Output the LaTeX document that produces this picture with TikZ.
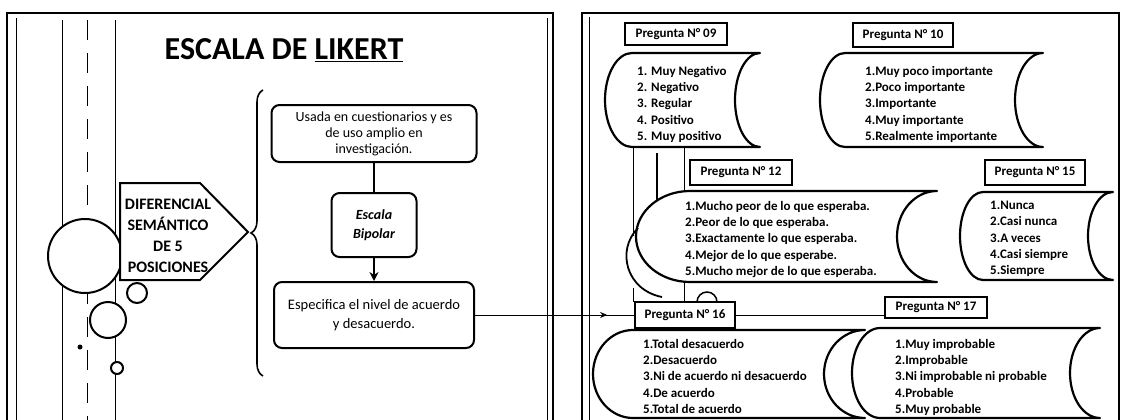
\documentclass[tikz,border=0pt]{standalone}
\usepackage{fontspec}
\setmainfont{Carlito}
\usetikzlibrary{decorations.pathreplacing,decorations.markings,arrows.meta}
\newcommand{\fs}[2]{\fontsize{#1}{#2}\selectfont}
% question shape: x1 (left corner), xl (leftmost of convex arc), x2 (right corner), xc (innermost of concave arc), ytop, ybot
\newcommand{\qshp}[6]{%
  \draw[qshape] (#1,#5) -- (#3,#5)
    arc[start angle=270,end angle=90,x radius={#3-#4},y radius={(#6-#5)/2}]
    -- (#1,#6)
    arc[start angle=90,end angle=270,x radius={#1-#2},y radius={(#6-#5)/2}]
    -- cycle;}
\begin{document}
\begin{tikzpicture}[x=1pt,y=-1pt,
  frameln/.style={line width=1.5pt},
  innerln/.style={line width=0.8pt},
  guide/.style={line width=0.7pt},
  qshape/.style={line width=2.2pt,fill=white,line join=round},
  qlabel/.style={draw,line width=1.6pt,fill=white,inner sep=0pt,font=\fs{13}{15}\bfseries},
  qtext/.style={anchor=north west,align=left,inner sep=0pt,font=\fs{13}{16.3}\bfseries},
  rbox/.style={draw,line width=2pt,rounded corners=8pt,fill=white,align=center,inner sep=0pt},
  bubble/.style={draw,line width=2pt,fill=white},
]
\useasboundingbox (0,0) rectangle (1121,420);
\clip (0,0) rectangle (1121,420);

% ---------- frames ----------
\draw[frameln] (7,13) rectangle (553,430);
\draw[innerln] (16,18) -- (16,430);
\draw[innerln] (547,18) -- (547,430);
\draw[frameln] (582,13) rectangle (1119,430);
\draw[innerln] (589,17) -- (589,430);

% ---------- left panel guide lines ----------
\draw[guide] (62,20) -- (62,420);
\draw[guide,dash pattern=on 20pt off 13pt] (87,20) -- (87,420);
\draw[guide] (115,20) -- (115,420);

% ---------- bubbles ----------
\draw[bubble] (85,256) circle[radius=37];
\draw[bubble] (137,293) circle[radius=10];
\draw[bubble] (108,320) circle[radius=18];
\draw[bubble] (117,368) circle[radius=6];
\fill (80,347) circle[radius=2.5];

% ---------- pentagon ----------
\coordinate (pa) at (120,183);
\coordinate (pb) at (200,183);
\coordinate (pc) at (248,232);
\coordinate (pd) at (200,280);
\coordinate (pe) at (120,280);
\draw[bubble,line join=miter] (pa) -- (pb) -- (pc) -- (pd) -- (pe) -- cycle;
\node[font=\fs{16}{21}\bfseries,align=center,inner sep=0pt] (dif) at (168,236)
  {DIFERENCIAL\\SEMÁNTICO\\DE 5\\POSICIONES};

% ---------- title ----------
\node[font=\fs{32}{36}\bfseries] (title) at (284,50) {ESCALA DE \underline{LIKERT}};

% ---------- brace ----------
\draw[line width=1.6pt,decorate,decoration={brace,amplitude=12pt,aspect=0.5}] (263,376) -- (263,90);

% ---------- boxes ----------
\node[rbox,minimum width=205pt,minimum height=57pt,font=\fs{14}{16}] (use) at (374,133.5)
  {Usada en cuestionarios y es\\de uso amplio en\\investigación.};
\node[rbox,minimum width=85pt,minimum height=64pt,font=\fs{14}{19}\bfseries\itshape] (bip) at (374,225)
  {Escala\\Bipolar};
\node[rbox,minimum width=200pt,minimum height=66pt,font=\fs{14.5}{19}] (esp) at (374,315)
  {Especifica el nivel de acuerdo\\y desacuerdo.};
\draw[line width=1.6pt] (use) -- (bip);
\draw[line width=1.6pt,-{Stealth[length=9pt,width=9pt]}] (bip) -- (esp);

% ---------- right panel guide lines ----------
\draw[guide] (633,148) -- (633,236);
\draw[line width=1.5pt] (657,153) -- (657,200);
\draw[guide] (684,147) -- (684,191);
\draw[guide] (633,288) -- (633,302);
\draw[guide] (684,283) -- (684,302);
\draw[line width=1.5pt] (697,302) arc[start angle=180,end angle=360,radius=10];

% ---------- question shapes ----------
\qshp{632}{605}{760}{735}{53}{147}
\qshp{845}{820}{1043}{1015}{53}{147}
\qshp{690}{636}{937}{897}{191}{282}
\qshp{983}{960}{1113}{1088}{192}{280}
\qshp{633}{593}{865}{824}{330}{418}
\qshp{880}{852}{1100}{1070}{328}{418}
\draw[line width=1.8pt] (638,228) .. controls (616,250) and (626,290) .. (662,297);

% ---------- labels ----------
\node[qlabel,minimum width=102pt,minimum height=22pt] (q09) at (676,34) {Pregunta N° 09};
\node[qlabel,minimum width=100pt,minimum height=24pt] (q10) at (903,35) {Pregunta N° 10};
\node[qlabel,minimum width=102pt,minimum height=25pt] (q12) at (741,172.5) {Pregunta N° 12};
\node[qlabel,minimum width=100pt,minimum height=25pt] (q15) at (1035,172.5) {Pregunta N° 15};
\node[qlabel,minimum width=100pt,minimum height=26pt] (q16) at (685,315) {Pregunta N° 16};
\node[qlabel,minimum width=102pt,minimum height=21pt] (q17) at (936,307.5) {Pregunta N° 17};

% ---------- connectors ----------
\draw[line width=0.8pt,postaction={decorate},
  decoration={markings,mark=at position 0.83 with {\arrow{Stealth[length=7pt,width=6pt]}}}]
  (esp.east) -- (q16.west);
\draw[line width=0.8pt] (q16.east) -- (q16.east -| q17.west);

% ---------- texts ----------
\node[qtext] (t09) at (637,66) {1. Muy Negativo\\2. Negativo\\3. Regular\\4. Positivo\\5. Muy positivo};
\node[qtext] (t10) at (865,66) {1.Muy poco importante\\2.Poco importante\\3.Importante\\4.Muy importante\\5.Realmente importante};
\node[qtext] (t12) at (685,201) {1.Mucho peor de lo que esperaba.\\2.Peor de lo que esperaba.\\3.Exactamente lo que esperaba.\\4.Mejor de lo que esperabe.\\5.Mucho mejor de lo que esperaba.};
\node[qtext] (t15) at (990,201) {1.Nunca\\2.Casi nunca\\3.A veces\\4.Casi siempre\\5.Siempre};
\node[qtext] (t16) at (643,339) {1.Total desacuerdo\\2.Desacuerdo\\3.Ni de acuerdo ni desacuerdo\\4.De acuerdo\\5.Total de acuerdo};
\node[qtext] (t17) at (895,339) {1.Muy improbable\\2.Improbable\\3.Ni improbable ni probable\\4.Probable\\5.Muy probable};
\end{tikzpicture}
\end{document}
